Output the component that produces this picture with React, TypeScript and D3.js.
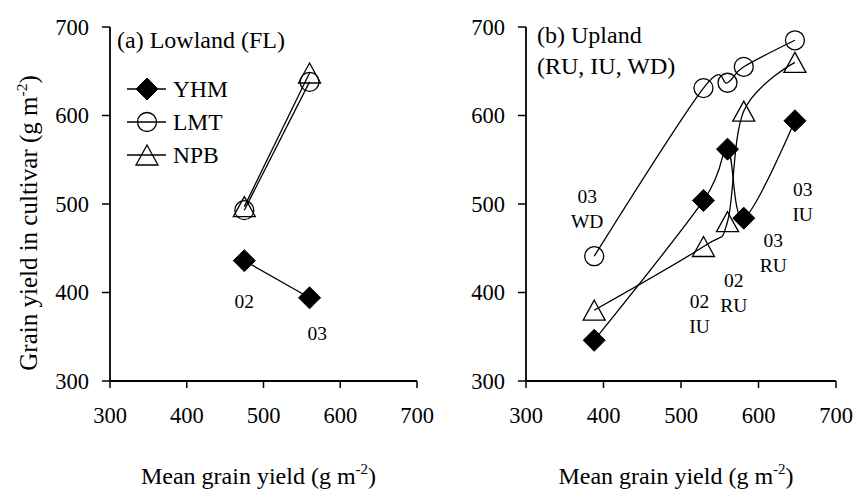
import React from "react";
import * as d3 from "d3";

const WIDTH = 856;
const HEIGHT = 492;
const FONT = "'Liberation Serif', 'Times New Roman', serif";

// axis ticks (same for both panels)
const ticks = [300, 400, 500, 600, 700];

// (a) lowland, two years
const lowlandMean = [475, 560];
const lowlandYHM = [436, 394];
const lowlandLMT = [493, 638];
const lowlandNPB = [497, 648];

// (b) upland, environments ordered by mean yield
const uplandMean = [388, 529, 560, 581, 647];
const uplandYHM = [346, 504, 562, 484, 594];
const uplandLMT = [441, 631, 637, 655, 685];
const uplandNPB = [380, 452, 480, 605, 660];

const cultivars = ["YHM", "LMT", "NPB"];

// environment annotations: [x, y] of the first line baseline in data units
const lowlandLabels = [
  { x: 475, y: 382, lines: ["02"] },
  { x: 570, y: 346, lines: ["03"] },
];
const uplandLabels = [
  { x: 379, y: 501, lines: ["03", "WD"] },
  { x: 657, y: 509, lines: ["03", "IU"] },
  { x: 619, y: 451, lines: ["03", "RU"] },
  { x: 568, y: 406, lines: ["02", "RU"] },
  { x: 524, y: 382, lines: ["02", "IU"] },
];

function Marker({ type, x, y }: { type: string; x: number; y: number }) {
  if (type === "YHM") {
    const r = 11;
    return (
      <path
        d={`M${x},${y - r}L${x + r},${y}L${x},${y + r}L${x - r},${y}Z`}
        fill="#000"
        stroke="#000"
        strokeWidth={1}
      />
    );
  }
  if (type === "LMT") {
    return <circle cx={x} cy={y} r={9.5} fill="none" stroke="#000" strokeWidth={1.3} />;
  }
  const h = 10;
  const w = 11;
  return (
    <path
      d={`M${x},${y - h}L${x + w},${y + h}L${x - w},${y + h}Z`}
      fill="none"
      stroke="#000"
      strokeWidth={1.3}
    />
  );
}

function Panel({
  x0,
  x1,
  mean,
  series,
  labels,
}: {
  x0: number;
  x1: number;
  mean: number[];
  series: number[][];
  labels: { x: number; y: number; lines: string[] }[];
}) {
  const x = d3.scaleLinear().domain([300, 700]).range([x0, x1]);
  const y = d3.scaleLinear().domain([300, 700]).range([381, 27]);
  // Excel-style smoothed line ~ uniform Catmull-Rom
  const line = d3
    .line<number>()
    .x((_, i) => x(mean[i]))
    .y((d) => y(d))
    .curve(d3.curveCardinal.tension(0));

  return (
    <g>
      <line x1={x0} x2={x0} y1={y(700)} y2={y(300)} stroke="#000" strokeWidth={1.8} />
      <line x1={x0} x2={x1} y1={y(300)} y2={y(300)} stroke="#000" strokeWidth={1.8} />
      {ticks.map((t) => (
        <g key={"y" + t}>
          <line x1={x0 - 8} x2={x0} y1={y(t)} y2={y(t)} stroke="#000" strokeWidth={1.5} />
          <text x={x0 - 21} y={y(t) + 7.5} textAnchor="end" fontSize={22.5} fontFamily={FONT}>
            {t}
          </text>
        </g>
      ))}
      {ticks.map((t) => (
        <g key={"x" + t}>
          <line x1={x(t)} x2={x(t)} y1={y(300)} y2={y(300) + 7} stroke="#000" strokeWidth={1.5} />
          <text x={x(t)} y={423} textAnchor="middle" fontSize={22.5} fontFamily={FONT}>
            {t}
          </text>
        </g>
      ))}

      {series.map((s, k) => (
        <path key={"l" + k} d={line(s) || ""} fill="none" stroke="#000" strokeWidth={1.3} />
      ))}
      {series.map((s, k) =>
        s.map((v, i) => (
          <Marker key={k + "-" + i} type={cultivars[k]} x={x(mean[i])} y={y(v)} />
        ))
      )}

      {labels.map((l, i) => (
        <text key={"a" + i} textAnchor="middle" fontSize={19.5} fontFamily={FONT}>
          {l.lines.map((s, j) => (
            <tspan key={j} x={x(l.x)} y={y(l.y) + j * 25}>
              {s}
            </tspan>
          ))}
        </text>
      ))}

      <text x={(x0 + x1) / 2 - 5} y={484} textAnchor="middle" fontSize={24} fontFamily={FONT}>
        Mean grain yield (g m
        <tspan dy={-10} fontSize={15}>
          -2
        </tspan>
        <tspan dy={10}>)</tspan>
      </text>
    </g>
  );
}

export default function App() {
  return (
    <svg
      width={WIDTH}
      height={HEIGHT}
      style={{ position: "absolute", left: 0, top: 0, background: "#fff" }}
    >
      <rect width={WIDTH} height={HEIGHT} fill="#fff" />
      <Panel
        x0={110}
        x1={417}
        mean={lowlandMean}
        series={[lowlandYHM, lowlandLMT, lowlandNPB]}
        labels={lowlandLabels}
      />
      <Panel
        x0={526}
        x1={836}
        mean={uplandMean}
        series={[uplandYHM, uplandLMT, uplandNPB]}
        labels={uplandLabels}
      />

      <text x={117} y={48} fontSize={24} fontFamily={FONT}>
        (a) Lowland (FL)
      </text>
      <text x={537} y={43} fontSize={24} fontFamily={FONT}>
        (b) Upland
      </text>
      <text x={537} y={74} fontSize={24} fontFamily={FONT}>
        (RU, IU, WD)
      </text>

      {/* legend */}
      {cultivars.map((c, i) => {
        const ly = 89 + i * 33;
        return (
          <g key={c}>
            <line x1={127} x2={166} y1={ly} y2={ly} stroke="#000" strokeWidth={1.3} />
            <Marker type={c} x={147} y={ly} />
            <text x={173} y={ly + 8} fontSize={23.5} fontFamily={FONT}>
              {c}
            </text>
          </g>
        );
      })}

      <text
        transform="translate(37,223) rotate(-90)"
        textAnchor="middle"
        fontSize={25}
        fontFamily={FONT}
      >
        Grain yield in cultivar (g m
        <tspan dy={-10} fontSize={15.5}>
          -2
        </tspan>
        <tspan dy={10}>)</tspan>
      </text>
    </svg>
  );
}
